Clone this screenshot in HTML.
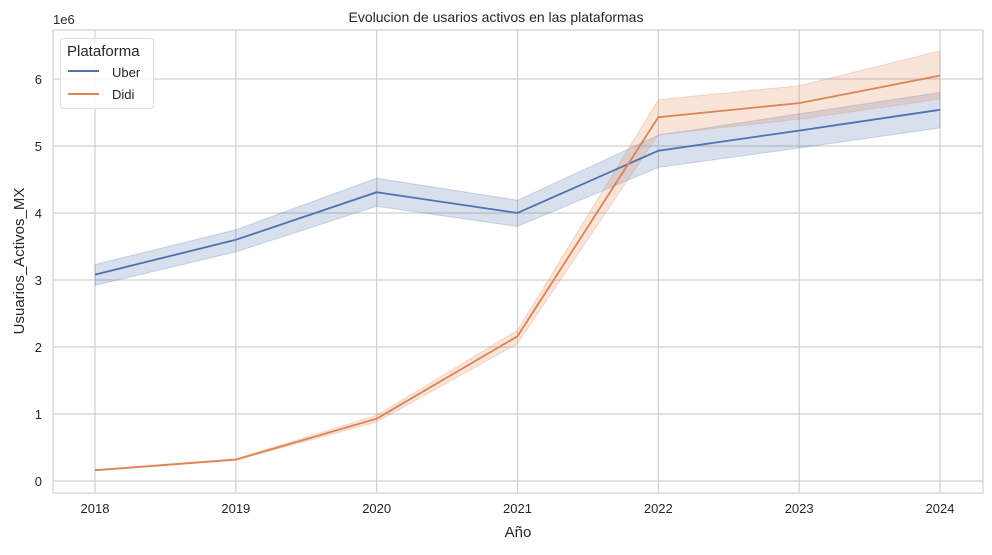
<!DOCTYPE html>
<html><head><meta charset="utf-8"><style>
body{margin:0;background:#fff;font-family:"Liberation Sans",sans-serif}
svg text{font-family:"Liberation Sans",sans-serif;fill:#262626}
</style></head><body>
<svg id="chart" width="992" height="550">
<rect x="53" y="30" width="930" height="463" fill="#fff" stroke="#d0d0d0" stroke-width="1.2"/>
<g id="grid"></g><g id="bands"></g><g id="lines"></g><g id="ticks"></g>
<text x="496" y="22" text-anchor="middle" font-size="14">Evolucion de usarios activos en las plataformas</text>
<text x="518" y="537" text-anchor="middle" font-size="15">Año</text>
<text x="24" y="261" text-anchor="middle" font-size="15" transform="rotate(-90 24 261)">Usuarios_Activos_MX</text>
<text x="53" y="24" font-size="13">1e6</text>
<g>
<rect x="60.5" y="38.5" width="93" height="70" rx="3" fill="#fff" fill-opacity="0.8" stroke="#dcdcdc"/>
<text x="67" y="56" font-size="15">Plataforma</text>
<line x1="68" y1="71" x2="99" y2="71" stroke="#4c72b0" stroke-width="2"/>
<text x="112" y="77" font-size="13">Uber</text>
<line x1="68" y1="94" x2="99" y2="94" stroke="#dd8452" stroke-width="2"/>
<text x="112" y="99" font-size="13">Didi</text>
</g>
</svg>
<script>
const years=[2018,2019,2020,2021,2022,2023,2024];
const uber=[3.08,3.60,4.31,4.00,4.93,5.23,5.54];
const uberHi=[3.23,3.75,4.52,4.19,5.16,5.48,5.80];
const uberLo=[2.92,3.42,4.10,3.80,4.68,4.97,5.27];
const didi=[0.16,0.32,0.93,2.16,5.43,5.64,6.05];
const didiHi=[0.17,0.33,0.98,2.25,5.69,5.90,6.42];
const didiLo=[0.15,0.31,0.88,2.05,5.17,5.40,5.70];
const yTicks=[0,1,2,3,4,5,6];
const NS="http://www.w3.org/2000/svg";
const xs=y=>95+(y-2018)*140.83;
const ys=v=>481-v*67;
function mk(t,a,p){const e=document.createElementNS(NS,t);for(const k in a)e.setAttribute(k,a[k]);document.getElementById(p).appendChild(e);return e;}
years.forEach(yr=>{
 const g=mk('line',{x1:xs(yr),x2:xs(yr),y1:30,y2:493,stroke:'#d0d0d0','stroke-width':1.2},'grid');
 
 
 const t=mk('text',{x:xs(yr),y:513,'text-anchor':'middle','font-size':13},'ticks');t.textContent=yr;
 
 
});
yTicks.forEach(v=>{
 const g=mk('line',{x1:53,x2:983,y1:ys(v),y2:ys(v),stroke:'#d0d0d0','stroke-width':1.2},'grid');
 
 
 const t=mk('text',{x:42,y:ys(v)+5,'text-anchor':'end','font-size':13},'ticks');t.textContent=v;
 
 
});
function series(mid,hi,lo,col,name){
 const top=years.map((y,i)=>xs(y)+','+ys(hi[i]));
 const bot=years.map((y,i)=>xs(y)+','+ys(lo[i])).reverse();
 const b=mk('polygon',{points:top.concat(bot).join(' '),fill:col,'fill-opacity':0.22,stroke:col,'stroke-opacity':0.25},'bands');
 
 
 const l=mk('polyline',{points:years.map((y,i)=>xs(y)+','+ys(mid[i])).join(' '),fill:'none',stroke:col,'stroke-width':1.8},'lines');
 
 
}
series(uber,uberHi,uberLo,'#4c72b0','uber');
series(didi,didiHi,didiLo,'#dd8452','didi');
</script>
</body></html>
